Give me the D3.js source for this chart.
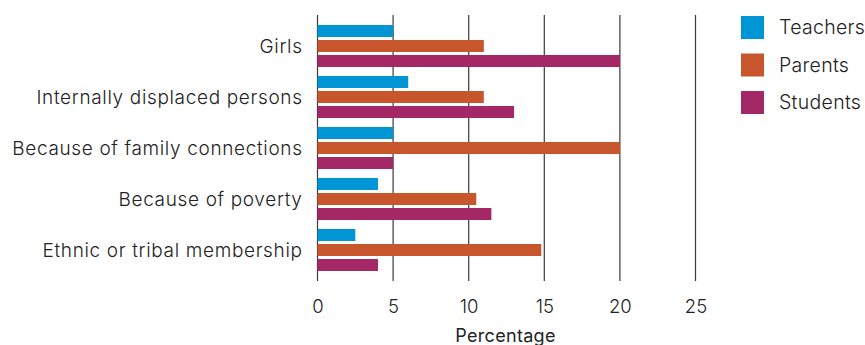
<!DOCTYPE html>
<html>
<head>
<meta charset="utf-8">
<script src="https://cdn.jsdelivr.net/npm/d3@7/dist/d3.min.js"></script>
<style>
  body { margin: 0; background: #fff; }
  svg text { font-family: Inter, "Open Sans", sans-serif; }
</style>
</head>
<body>
<svg id="chart" width="865" height="345"></svg>
<script>
const categories = ["Girls", "Internally displaced persons", "Because of family connections", "Because of poverty", "Ethnic or tribal membership"];
const seriesNames = ["Teachers", "Parents", "Students"];
const teachers = [5, 6, 5, 4, 2.5];
const parents = [11, 11, 20, 10.5, 14.8];
const students = [20, 13, 5, 11.5, 4];
const xTicks = [0, 5, 10, 15, 20, 25];
const colors = ["#0096d6", "#c8562d", "#a32865"];

const series = [teachers, parents, students];
const svg = d3.select("#chart");

const x = d3.scaleLinear().domain([0, 25]).range([317.5, 695.5]);
const y0 = d3.scaleBand().domain(categories).range([25, 271]).paddingInner(9 / 51).paddingOuter(0);
const y1 = d3.scaleBand().domain(seriesNames).range([0, y0.bandwidth()]).paddingInner(0.2);

// vertical gridlines
svg.append("g").selectAll("line").data(xTicks).join("line")
  .attr("x1", d => x(d)).attr("x2", d => x(d))
  .attr("y1", 15).attr("y2", 281)
  .attr("stroke", "#3a3a3a").attr("stroke-width", 1.2);

// bars
const groups = svg.append("g").selectAll("g").data(categories).join("g")
  .attr("transform", d => `translate(0,${y0(d)})`);
groups.selectAll("rect")
  .data((c, i) => seriesNames.map((s, j) => ({ s, v: series[j][i], j })))
  .join("rect")
  .attr("x", x(0))
  .attr("y", d => y1(d.s))
  .attr("width", d => x(d.v) - x(0))
  .attr("height", y1.bandwidth())
  .attr("fill", d => colors[d.j]);

// category labels
svg.append("g").selectAll("text").data(categories).join("text")
  .attr("x", 302.6)
  .attr("y", d => y0(d) + y0.bandwidth() / 2)
  .attr("dy", "0.35em")
  .attr("text-anchor", "end")
  .attr("font-size", 19)
  .attr("font-weight", 300)
  .attr("letter-spacing", 0.65)
  .attr("fill", "#222")
  .text(d => d);

// x axis
const xAxis = svg.append("g").attr("transform", "translate(0,281)")
  .call(d3.axisBottom(x).tickValues(xTicks).tickSize(0).tickPadding(19));
xAxis.select(".domain").remove();
xAxis.selectAll("text")
  .attr("font-size", 18.5)
  .attr("font-weight", 300)
  .attr("fill", "#222")
  .style("font-family", "Inter, sans-serif");

svg.append("text")
  .attr("x", x(12.5) - 1).attr("y", 342)
  .attr("text-anchor", "middle")
  .attr("font-size", 18)
  .attr("font-weight", 400)
  .attr("letter-spacing", 0.3)
  .attr("fill", "#222")
  .text("Percentage");

// legend
const legend = svg.append("g").selectAll("g").data(seriesNames).join("g")
  .attr("transform", (d, i) => `translate(741,${16 + i * 37.5})`);
legend.append("rect").attr("width", 23).attr("height", 23).attr("fill", (d, i) => colors[i]);
legend.append("text")
  .attr("x", 38).attr("y", 11.5).attr("dy", "0.35em")
  .attr("font-size", 19.5)
  .attr("font-weight", 300)
  .attr("letter-spacing", 0.3)
  .attr("fill", "#222")
  .text(d => d);
</script>
</body>
</html>
